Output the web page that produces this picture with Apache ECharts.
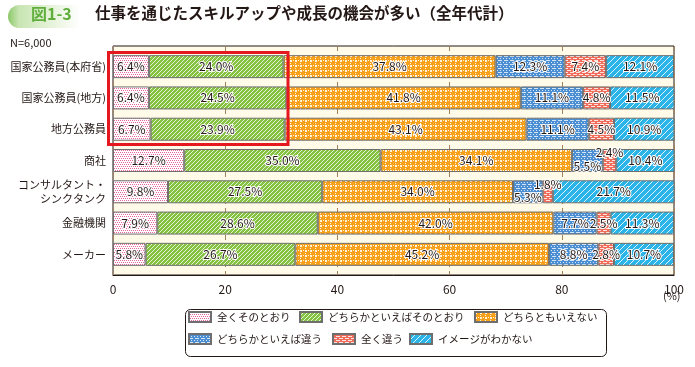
<!DOCTYPE html>
<html>
<head>
<meta charset="utf-8">
<script src="https://cdn.jsdelivr.net/npm/echarts@6/dist/echarts.min.js"></script>
<style>
html,body{margin:0;padding:0;background:#fff;}
#c{width:695px;height:367px;}
</style>
</head>
<body>
<div id="c"></div>
<script>
// ---- data ----
const categories = ['国家公務員(本府省)', '国家公務員(地方)', '地方公務員', '商社', 'コンサルタント・\nシンクタンク', '金融機関', 'メーカー'];
const seriesNames = ['全くそのとおり', 'どちらかといえばそのとおり', 'どちらともいえない', 'どちらかといえば違う', '全く違う', 'イメージがわかない'];
const totallyAgree   = [6.4, 6.4, 6.7, 12.7, 9.8, 7.9, 5.8];
const somewhatAgree  = [24.0, 24.5, 23.9, 35.0, 27.5, 28.6, 26.7];
const neutral        = [37.8, 41.8, 43.1, 34.1, 34.0, 42.0, 45.2];
const somewhatDisagree = [12.3, 11.1, 11.1, 5.5, 5.3, 7.7, 8.8];
const totallyDisagree  = [7.4, 4.8, 4.5, 2.4, 1.8, 2.5, 2.8];
const noImage        = [12.1, 11.5, 10.9, 10.4, 21.7, 11.3, 10.7];
const xTicks = [0, 20, 40, 60, 80, 100];

const seriesValues = [totallyAgree, somewhatAgree, neutral, somewhatDisagree, totallyDisagree, noImage];

// ---- patterns ----
function pat(w, h, bg, draw) {
  const c = document.createElement('canvas');
  c.width = w; c.height = h;
  const g = c.getContext('2d');
  g.fillStyle = bg; g.fillRect(0, 0, w, h);
  draw(g);
  return { image: c, repeat: 'repeat' };
}
const patterns = [
  pat(4, 4, '#ffffff', g => { g.fillStyle = '#e8649f'; [[0,0],[2,0],[1,2],[3,2]].forEach(p => g.fillRect(p[0], p[1], 1, 1)); }),
  pat(4, 4, '#86c241', g => { g.fillStyle = '#e2f1d2'; for (let i = 0; i < 4; i++) g.fillRect(i, 3 - i, 1, 1); }),
  pat(5, 5, '#f6a01c', g => { g.fillStyle = '#fff3dc'; g.fillRect(0, 0, 2, 2); g.fillRect(3, 0, 1, 1); g.fillRect(0, 3, 1, 1); }),
  pat(6, 4, '#4b8fd2', g => { g.fillStyle = '#d3e5f6'; g.fillRect(0, 0, 4, 1); g.fillRect(2, 2, 1, 1); g.fillRect(5, 2, 1, 1); }),
  pat(6, 4, '#ef6d5a', g => { g.fillStyle = '#fde3de'; g.fillRect(0, 0, 4, 1); g.fillRect(3, 2, 3, 1); g.fillRect(0, 2, 1, 1); }),
  pat(6, 6, '#2ab4e8', g => { g.fillStyle = '#dff3fb'; for (let i = 0; i < 6; i++) g.fillRect(i, 5 - i, 1, 1); })
];

// label placement tweaks for thin segments: "seriesIndex-categoryIndex" -> y offset inside bar
const labelTweaks = { '3-3': 17, '4-3': 3, '3-4': 17, '4-4': 4 };

const FONT = '"Noto Sans CJK JP", "Noto Sans", sans-serif';

const series = seriesValues.map((vals, si) => ({
  name: seriesNames[si],
  type: 'bar',
  stack: 'total',
  xAxisIndex: 1,
  yAxisIndex: 1,
  barWidth: 23,
  itemStyle: { color: patterns[si], borderColor: '#6e6e6e', borderWidth: 1 },
  label: {
    show: true,
    position: 'inside',
    formatter: p => Number(p.value).toFixed(1) + '%',
    fontSize: 12,
    fontFamily: FONT,
    color: '#231815',
    textBorderColor: '#ffffff',
    textBorderWidth: 2
  },
  data: vals.map((v, ci) => {
    const k = si + '-' + ci;
    if (labelTweaks[k] !== undefined) {
      return { value: v, label: { position: ['50%', labelTweaks[k]], align: 'center', verticalAlign: 'middle' } };
    }
    return v;
  })
}));

const legendPos = [[188, 311], [299, 311], [474, 311], [188, 333], [332, 333], [409, 333]];
const legends = seriesNames.map((n, i) => ({
  data: [n],
  left: legendPos[i][0],
  top: legendPos[i][1],
  padding: 0,
  icon: 'rect',
  itemWidth: 22,
  itemHeight: 10,
  itemGap: 0,
  selectedMode: false,
  textStyle: { fontSize: 10.5, fontFamily: FONT, color: '#231815', padding: [0, 0, 0, 1] }
}));

const chart = echarts.init(document.getElementById('c'));
chart.setOption({
  animation: false,
  textStyle: { fontFamily: FONT },
  grid: [
    { left: 113, right: 21, top: 46, height: 229, show: true, backgroundColor: '#fffbe8', borderColor: '#231815', borderWidth: 1 },
    { left: 113, right: 21, top: 51, height: 219 }
  ],
  xAxis: [
    {
      gridIndex: 0, type: 'value', min: xTicks[0], max: xTicks[xTicks.length - 1], interval: 20,
      axisLine: { show: true, lineStyle: { color: '#231815', width: 1 } },
      axisTick: { show: false },
      axisLabel: { fontSize: 12, color: '#231815', margin: 8, fontFamily: FONT },
      splitLine: { show: true, lineStyle: { color: '#a2835e', type: [5, 4], width: 1 } }
    },
    { gridIndex: 1, type: 'value', min: 0, max: 100, show: false, splitLine: { show: false } }
  ],
  yAxis: [
    { gridIndex: 0, type: 'value', min: 0, max: 1, show: false, splitLine: { show: false } },
    {
      gridIndex: 1, type: 'category', data: categories, inverse: true,
      axisLine: { show: false }, axisTick: { show: false },
      axisLabel: { fontSize: 11, color: '#231815', margin: 7, lineHeight: 14, fontFamily: FONT }
    }
  ],
  legend: legends,
  series: series,
  graphic: [
    { type: 'rect', left: 8, top: 5, shape: { width: 72, height: 23, r: [12, 0, 0, 12] },
      style: { fill: new echarts.graphic.LinearGradient(0, 0, 1, 0, [
        { offset: 0, color: '#8cc86a' }, { offset: 0.15, color: '#c8e5b2' }, { offset: 0.6, color: '#e6f3da' }, { offset: 1, color: '#ffffff' }]) } },
    { type: 'text', left: 31, top: 6, style: { text: '図1-3', fontSize: 16, fontWeight: 'bold', fill: '#5fae3c', fontFamily: FONT } },
    { type: 'text', left: 95, top: 5, style: { text: '仕事を通じたスキルアップや成長の機会が多い（全年代計）', fontSize: 15.5, fontWeight: 'bold', fill: '#231815', fontFamily: FONT } },
    { type: 'text', left: 10, top: 37, style: { text: 'N=6,000', fontSize: 11, fill: '#231815', fontFamily: FONT } },
    { type: 'text', left: 663, top: 290, style: { text: '(%)', fontSize: 11, fill: '#231815', fontFamily: FONT } },
    { type: 'rect', left: 183, top: 307, shape: { width: 421, height: 47, r: 5 }, style: { fill: 'none', stroke: '#231815', lineWidth: 1 }, z: 1 },
    { type: 'rect', shape: { x: 108.5, y: 52.5, width: 179.5, height: 92, r: 0 }, style: { fill: 'none', stroke: '#e5171f', lineWidth: 3 }, z: 100 }
  ]
});
</script>
</body>
</html>
